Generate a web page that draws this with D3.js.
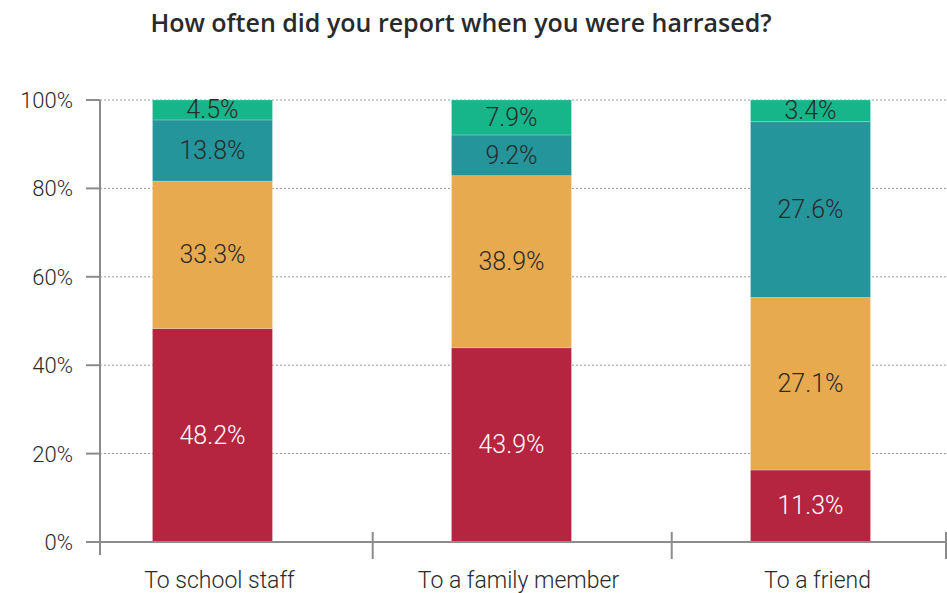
<!DOCTYPE html>
<html>
<head>
<meta charset="utf-8">
<script src="https://cdn.jsdelivr.net/npm/d3@7"></script>
<style>
  html, body { margin: 0; padding: 0; background: #fff; }
  svg { display: block; font-family: Roboto, "Noto Sans", sans-serif; }
</style>
</head>
<body>
<svg id="chart" width="947" height="593"></svg>
<script>
// Reporting channels (x categories)
const categories = ["To school staff", "To a family member", "To a friend"];

// Stacked segments, bottom to top, percentages as labelled
const seriesKeys = ["seg1", "seg2", "seg3", "seg4"];
const seg1Values = [48.2, 43.9, 11.3];
const seg2Values = [33.3, 38.9, 27.1];
const seg3Values = [13.8, 9.2, 27.6];
const seg4Values = [4.5, 7.9, 3.4];

const seriesColors = ["#b5253f", "#e8aa4f", "#25959c", "#17b58a"];
const labelColors = ["#ffffff", "#2a2a2a", "#2a2a2a", "#2a2a2a"];

const yTickValues = [0, 0.2, 0.4, 0.6, 0.8, 1];
const titleText = "How often did you report when you were harrased?";

// Build rows for d3.stack
const rows = categories.map((c, i) => ({
  category: c,
  seg1: seg1Values[i],
  seg2: seg2Values[i],
  seg3: seg3Values[i],
  seg4: seg4Values[i]
}));

const stacked = d3.stack()
  .keys(seriesKeys)
  .offset(d3.stackOffsetExpand)(rows);

// Layout
const plotLeft = 100, plotRight = 946, plotTop = 100, plotBottom = 542;
const svg = d3.select("#chart");

const x = d3.scaleBand()
  .domain(categories)
  .range([plotLeft, plotRight])
  .paddingInner(0.5987)
  .paddingOuter(0.214)
  .align(0.41);

const y = d3.scaleLinear().domain([0, 1]).range([plotBottom, plotTop]);

const axisColor = "#8c8c8c";

// Title
svg.append("text")
  .attr("x", 461)
  .attr("y", 32)
  .attr("text-anchor", "middle")
  .attr("font-family", "'Open Sans', sans-serif")
  .attr("font-size", 25)
  .attr("font-weight", 600)
  .attr("fill", "#2a2a2a")
  .text(titleText);

// Dotted gridlines
svg.append("g")
  .selectAll("line")
  .data(yTickValues.filter(v => v > 0))
  .join("line")
  .attr("x1", plotLeft)
  .attr("x2", plotRight)
  .attr("y1", d => y(d))
  .attr("y2", d => y(d))
  .attr("stroke", "#9a9a9a")
  .attr("stroke-width", 1)
  .attr("stroke-dasharray", "2,2");

// Bars
const groups = svg.append("g")
  .selectAll("g")
  .data(stacked)
  .join("g")
  .attr("fill", (d, i) => seriesColors[i]);

groups.selectAll("rect")
  .data(d => d)
  .join("rect")
  .attr("x", d => x(d.data.category))
  .attr("width", x.bandwidth())
  .attr("y", d => y(d[1]))
  .attr("height", d => y(d[0]) - y(d[1]))
  .attr("stroke", "rgba(255,255,255,0.25)")
  .attr("stroke-width", 0.8);

// Segment labels
svg.append("g")
  .selectAll("g")
  .data(stacked)
  .join("g")
  .each(function (series, si) {
    d3.select(this).selectAll("text")
      .data(series)
      .join("text")
      .attr("x", d => x(d.data.category) + x.bandwidth() / 2)
      .attr("y", d => (y(d[0]) + y(d[1])) / 2)
      .attr("dy", "0.33em")
      .attr("text-anchor", "middle")
      .attr("font-size", 25)
      .attr("font-weight", 300)
      .attr("fill", labelColors[si])
      .text(d => d.data[series.key].toFixed(1) + "%");
  });

// Y axis
const yAxis = svg.append("g");
yAxis.append("line")
  .attr("x1", plotLeft).attr("x2", plotLeft)
  .attr("y1", plotTop).attr("y2", plotBottom + 13)
  .attr("stroke", axisColor).attr("stroke-width", 2);
yAxis.selectAll("line.tick")
  .data(yTickValues)
  .join("line")
  .attr("class", "tick")
  .attr("x1", plotLeft - 14).attr("x2", plotLeft)
  .attr("y1", d => y(d)).attr("y2", d => y(d))
  .attr("stroke", axisColor).attr("stroke-width", 2);
yAxis.selectAll("text")
  .data(yTickValues)
  .join("text")
  .attr("x", 73)
  .attr("y", d => y(d))
  .attr("dy", "0.36em")
  .attr("text-anchor", "end")
  .attr("font-size", 22)
  .attr("font-weight", 300)
  .attr("fill", "#2a2a2a")
  .text(d => d3.format(".0%")(d));

// X axis with separator ticks between categories
const xAxis = svg.append("g");
xAxis.append("line")
  .attr("x1", plotLeft - 14).attr("x2", 947)
  .attr("y1", plotBottom).attr("y2", plotBottom)
  .attr("stroke", axisColor).attr("stroke-width", 2);
const gap = x.step() - x.bandwidth();
const separators = categories.slice(0, -1).map(c => x(c) + x.bandwidth() + gap * 0.56);
separators.push(plotRight);
xAxis.selectAll("line.sep")
  .data(separators)
  .join("line")
  .attr("class", "sep")
  .attr("x1", d => d).attr("x2", d => d)
  .attr("y1", plotBottom - 10).attr("y2", plotBottom + 17)
  .attr("stroke", axisColor).attr("stroke-width", 2);
xAxis.selectAll("text")
  .data(categories)
  .join("text")
  .attr("x", d => x(d) + x.bandwidth() / 2 + 7)
  .attr("y", 588)
  .attr("text-anchor", "middle")
  .attr("font-size", 23)
  .attr("font-weight", 300)
  .attr("fill", "#2a2a2a")
  .text(d => d);
</script>
</body>
</html>
